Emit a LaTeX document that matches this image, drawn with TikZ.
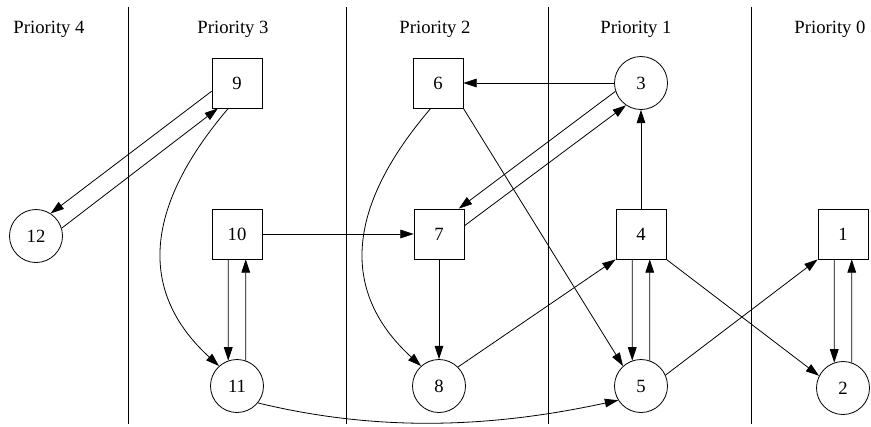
\documentclass[tikz,border=0pt]{standalone}
\usepackage{fontspec}
\setmainfont{Liberation Serif}
\usetikzlibrary{arrows.meta}

\tikzset{
  sq/.style={draw, rectangle, minimum size=37.5pt, inner sep=0pt},
  rd/.style={draw, circle, minimum size=39.75pt, inner sep=0pt},
  edge/.style={-{Triangle[length=10pt,width=6.5pt]}},
  lvl/.style={anchor=base}
}

\begin{document}
\begin{tikzpicture}[x=0.75pt,y=0.75pt,line width=0.6pt,font=\fontsize{14}{16}\selectfont]
  \useasboundingbox (0,0) rectangle (871,-426);
  % column separators
  \foreach \x in {128,346,548,751} \draw (\x,-7) -- (\x,-424);
  \node[lvl] (l4) at (49,-33) {Priority 4};
  \node[lvl] (l3) at (233,-33) {Priority 3};
  \node[lvl] (l2) at (435,-33) {Priority 2};
  \node[lvl] (l1) at (636,-33) {Priority 1};
  \node[lvl] (l0) at (830,-33) {Priority 0};

  \node[sq] (v9) at (237,-83) {9};
  \node[sq] (v6) at (438,-83) {6};
  \node[rd] (v3) at (641,-83) {3};
  \node[rd] (v12) at (36,-236) {12};
  \node[sq] (v10) at (237,-234) {10};
  \node[sq] (v7) at (439,-234) {7};
  \node[sq] (v4) at (641,-234) {4};
  \node[sq] (v1) at (843,-234) {1};
  \node[rd] (v11) at (237,-386) {11};
  \node[rd] (v8) at (439,-386) {8};
  \node[rd] (v5) at (641,-386) {5};
  \node[rd] (v2) at (843,-388) {2};

  \draw[edge] (v9.198) -- (v12.57);
  \draw[edge] (v12.17) -- (v9.233);
  \draw[edge] (v9.251) .. controls (146,-205) and (136,-290) .. (v11.132);
  \draw[edge] (v10.251) -- (v11.109);
  \draw[edge] (v11.71) -- (v10.289);
  \draw[edge] (v10) -- (v7);
  \draw[edge] (v11.321) .. controls (378,-432) and (490,-428) .. (v5.212);
  \draw[edge] (v6.254) .. controls (348,-205) and (338,-290) .. (v8.132);
  \draw[edge] (v6.south east) -- (v5.132);
  \draw[edge] (v3) -- (v6);
  \draw[edge] (v3.198) -- (v7.52);
  \draw[edge] (v7.18) -- (v3.236);
  \draw[edge] (v7) -- (v8);
  \draw[edge] (v8.45) -- (v4.south west);
  \draw[edge] (v4) -- (v3);
  \draw[edge] (v4.251) -- (v5.109);
  \draw[edge] (v5.71) -- (v4.289);
  \draw[edge] (v4.south east) -- (v2.153);
  \draw[edge] (v5.24) -- (v1.south west);
  \draw[edge] (v1.251) -- (v2.109);
  \draw[edge] (v2.71) -- (v1.289);
\end{tikzpicture}
\end{document}
